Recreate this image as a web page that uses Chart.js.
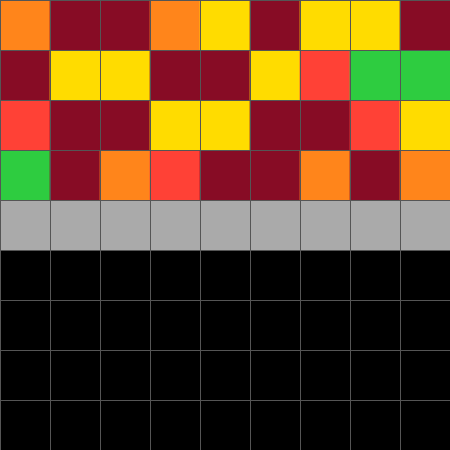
<!DOCTYPE html>
<html>
<head>
<meta charset="utf-8">
<script src="https://cdn.jsdelivr.net/npm/chart.js@4/dist/chart.umd.min.js"></script>
<style>
html,body{margin:0;padding:0;background:#000;overflow:hidden;}
canvas{display:block;}
</style>
</head>
<body>
<canvas id="c" width="450" height="450"></canvas>
<script>
// Column categories
const columns = ["0","1","2","3","4","5","6","7","8"];
// Colour palette (ARC style): code -> colour
const palette = {0:"#000000",2:"#FF4136",3:"#2ECC40",4:"#FFDC00",5:"#AAAAAA",7:"#FF851B",9:"#870C25"};
// Cell colour codes, one array per grid row (top to bottom)
const row0 = [7,9,9,7,4,9,4,4,9];
const row1 = [9,4,4,9,9,4,2,3,3];
const row2 = [2,9,9,4,4,9,9,2,4];
const row3 = [3,9,7,2,9,9,7,9,7];
const row4 = [5,5,5,5,5,5,5,5,5];
const row5 = [0,0,0,0,0,0,0,0,0];
const row6 = [0,0,0,0,0,0,0,0,0];
const row7 = [0,0,0,0,0,0,0,0,0];
const row8 = [0,0,0,0,0,0,0,0,0];
const rows = [row0,row1,row2,row3,row4,row5,row6,row7,row8];
// Each cell occupies one unit of height
const cellHeight = [1,1,1,1,1,1,1,1,1];

const datasets = rows.map((r,i)=>({
  label: "row " + i,
  data: cellHeight.slice(),
  backgroundColor: r.map(v=>palette[v]),
  borderWidth: 0,
  categoryPercentage: 1,
  barPercentage: 1
}));

const gridLines = {
  id: "gridLines",
  afterDatasetsDraw(chart) {
    const ctx = chart.ctx;
    const area = chart.chartArea;
    const ys = chart.scales.y;
    const meta = chart.getDatasetMeta(0);
    ctx.save();
    ctx.strokeStyle = "#555555";
    ctx.lineWidth = 1;
    ctx.beginPath();
    meta.data.forEach((bar, i) => {
      const p = bar.getProps(["x","width"], true);
      const left = Math.round(p.x - p.width / 2) + 0.5;
      ctx.moveTo(left, area.top);
      ctx.lineTo(left, area.bottom);
      if (i === meta.data.length - 1) {
        const right = Math.round(p.x + p.width / 2) + 0.5;
        ctx.moveTo(right, area.top);
        ctx.lineTo(right, area.bottom);
      }
    });
    for (let k = 0; k <= rows.length; k++) {
      const py = Math.round(ys.getPixelForValue(k)) + 0.5;
      ctx.moveTo(area.left, py);
      ctx.lineTo(area.right, py);
    }
    ctx.stroke();
    ctx.restore();
  }
};

new Chart(document.getElementById("c"), {
  type: "bar",
  data: { labels: columns, datasets },
  options: {
    responsive: false,
    animation: false,
    layout: { padding: 0 },
    plugins: { legend: { display: false }, tooltip: { enabled: false } },
    scales: {
      x: {
        stacked: true,
        display: false
      },
      y: {
        stacked: true,
        reverse: true,
        min: 0, max: 9,
        display: false
      }
    }
  },
  plugins: [gridLines]
});
</script>
</body>
</html>
